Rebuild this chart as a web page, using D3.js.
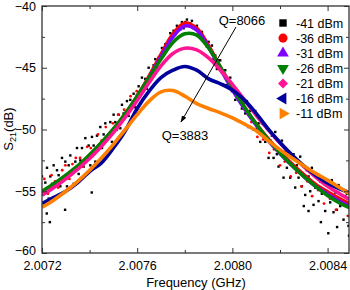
<!DOCTYPE html>
<html><head><meta charset="utf-8">
<script src="https://cdn.jsdelivr.net/npm/d3@7"></script>
<style>
body{margin:0;background:#fff}
svg{display:block}
text{font-family:Arial,"Liberation Sans",sans-serif;fill:#000}
</style>
</head><body>
<svg id="c" width="350" height="290"></svg>
<script>
// ---------- data ----------
const freqGrid = [2.00720,2.00725,2.00730,2.00735,2.00740,2.00745,2.00750,2.00755,2.00760,2.00765,2.00770,2.00775,2.00780,2.00785,2.00790,2.00795,2.00800,2.00805,2.00810,2.00815,2.00820,2.00825,2.00830,2.00835,2.00840,2.00845,2.00850];
const s36 = [-55.1,-54.45,-53.75,-53.0,-52.1,-51.1,-50.0,-48.75,-47.3,-45.67,-43.92,-42.28,-41.38,-41.79,-43.22,-44.98,-46.67,-48.2,-49.55,-50.75,-51.82,-52.78,-53.65,-54.45,-55.05,-55.6,-56.1];
const s31 = [-55.3,-54.65,-53.95,-53.15,-52.25,-51.25,-50.12,-48.85,-47.4,-45.8,-44.1,-42.5,-41.62,-41.95,-43.35,-45.1,-46.78,-48.3,-49.65,-50.88,-51.95,-52.92,-53.8,-54.6,-55.22,-55.8,-56.3];
const s26 = [-55.0,-54.4,-53.7,-52.95,-52.05,-51.05,-49.95,-48.7,-47.3,-45.8,-44.3,-42.95,-42.25,-42.35,-43.4,-44.95,-46.6,-48.15,-49.55,-50.8,-51.9,-52.9,-53.8,-54.6,-55.35,-55.95,-56.4];
const s21 = [-55.3,-54.7,-54.0,-53.2,-52.35,-51.35,-50.25,-49.0,-47.65,-46.2,-44.85,-43.85,-43.42,-43.55,-44.2,-45.2,-46.35,-47.6,-48.85,-50.0,-51.1,-52.1,-53.0,-53.85,-54.6,-55.2,-55.75];
const s16 = [-56.0,-55.5,-55.0,-54.3,-53.4,-52.7,-51.5,-50.1,-48.3,-46.9,-45.8,-45.2,-44.9,-45.2,-45.9,-46.3,-46.8,-47.6,-48.7,-49.95,-51.05,-52.05,-52.95,-53.7,-54.35,-54.8,-55.15];
const s11 = [-56.3,-55.7,-55.0,-54.2,-53.3,-52.3,-51.2,-50.0,-48.8,-47.7,-46.95,-46.85,-47.3,-47.9,-48.3,-48.65,-49.05,-49.55,-50.1,-50.9,-51.65,-52.3,-52.95,-53.55,-54.1,-54.7,-55.3];

// -41 dBm measured points (noisy)
const blackFreq = [
2.007200,2.007207,2.007214,2.007221,2.007228,2.007235,2.007242,2.007249,2.007256,2.007263,
2.007270,2.007277,2.007284,2.007291,2.007298,2.007305,2.007312,2.007319,2.007326,2.007333,
2.007340,2.007347,2.007354,2.007361,2.007368,2.007375,2.007382,2.007389,2.007396,2.007403,
2.007410,2.007417,2.007424,2.007431,2.007438,2.007445,2.007452,2.007459,2.007466,2.007473,
2.007480,2.007487,2.007494,2.007501,2.007508,2.007515,2.007522,2.007529,2.007536,2.007543,
2.007550,2.007557,2.007564,2.007571,2.007578,2.007585,2.007592,2.007599,2.007606,2.007613,
2.007620,2.007627,2.007634,2.007641,2.007648,2.007655,2.007662,2.007669,2.007676,2.007683,
2.007690,2.007697,2.007704,2.007711,2.007718,2.007725,2.007732,2.007739,2.007746,2.007753,
2.007760,2.007767,2.007774,2.007781,2.007788,2.007795,2.007802,2.007809,2.007816,2.007823,
2.007830,2.007837,2.007844,2.007851,2.007858,2.007865,2.007872,2.007879,2.007886,2.007893,
2.007900,2.007907,2.007914,2.007921,2.007928,2.007935,2.007942,2.007949,2.007956,2.007963,
2.007970,2.007977,2.007984,2.007991,2.007998,2.008005,2.008012,2.008019,2.008026,2.008033,
2.008040,2.008047,2.008054,2.008061,2.008068,2.008075,2.008082,2.008089,2.008096,2.008103,
2.008110,2.008117,2.008124,2.008131,2.008138,2.008145,2.008152,2.008159,2.008166,2.008173,
2.008180,2.008187,2.008194,2.008201,2.008208,2.008215,2.008222,2.008229,2.008236,2.008243,
2.008250,2.008257,2.008264,2.008271,2.008278,2.008285,2.008292,2.008299,2.008306,2.008313,
2.008320,2.008327,2.008334,2.008341,2.008348,2.008355,2.008362,2.008369,2.008376,2.008383,
2.008390,2.008397,2.008404,2.008411,2.008418,2.008425,2.008432,2.008439,2.008446,2.008453,
2.008460,2.008467,2.008474,2.008481,2.008488,2.008495,
2.007220,2.007233,2.007297,2.007409,2.008300,2.008320,2.008372,2.008403,2.008440,2.008490];
const blackDb = [
-53.8,-55.1,-54.3,-53.1,-55.6,-53.8,-54.4,-52.9,-55.5,-53.3,
-53.7,-54.6,-52.3,-53.9,-52.6,-54.6,-52.9,-52.1,-53.6,-54.4,
-52.6,-51.5,-53.6,-52.5,-51.5,-53.0,-50.7,-52.4,-51.3,-52.9,
-50.6,-51.3,-52.6,-50.5,-51.3,-49.8,-51.5,-50.4,-49.5,-50.8,
-50.4,-49.4,-51.0,-48.8,-49.4,-50.0,-48.8,-49.9,-48.0,-48.7,
-48.9,-47.7,-48.9,-47.6,-48.0,-47.1,-48.2,-47.2,-46.5,-47.1,
-45.8,-46.8,-45.9,-46.7,-45.0,-45.5,-45.5,-44.8,-44.3,-44.9,
-44.2,-44.2,-43.4,-44.0,-43.1,-43.0,-43.3,-42.2,-42.5,-42.0,
-42.3,-41.6,-41.8,-41.9,-41.3,-41.8,-41.3,-41.1,-41.6,-41.4,
-41.2,-41.8,-41.8,-41.6,-42.3,-42.1,-42.1,-42.7,-42.8,-43.3,
-42.9,-43.6,-43.2,-44.3,-44.0,-45.1,-44.4,-44.4,-45.4,-45.4,
-45.2,-46.4,-46.0,-45.8,-46.9,-46.6,-47.6,-46.9,-47.5,-47.2,
-48.3,-47.9,-48.7,-47.7,-49.8,-48.5,-49.1,-50.0,-48.5,-49.9,
-49.5,-51.0,-49.5,-50.4,-51.0,-49.9,-52.3,-50.9,-50.5,-52.3,
-50.2,-52.0,-53.0,-51.7,-50.9,-53.9,-51.8,-53.1,-51.8,-53.9,
-52.8,-52.0,-54.7,-52.9,-53.9,-52.2,-54.6,-53.8,-55.3,-53.3,
-53.8,-55.0,-53.1,-56.1,-54.7,-53.8,-55.8,-54.2,-55.2,-54.0,
-56.6,-55.0,-54.5,-55.9,-54.1,-56.7,-55.1,-56.5,-54.5,-56.2,
-55.9,-57.3,-55.4,-55.2,-57.8,-55.9,
-56.8,-57.5,-56.5,-55.1,-56.2,-56.6,-57.5,-58.4,-57.9,-58.6];

// -36 dBm scattered points away from its band
const redFreq = [2.007210,2.007225,2.007240,2.007255,2.007268,2.007285,2.007298,2.007315,2.007328,2.007342,2.007360,2.007372,2.007390,2.007405,2.007418,2.007435,2.007450,2.007468,2.007482,2.007498,2.007520,2.007545,2.007572,2.007598,2.008080,2.008105,2.008130,2.008155,2.008175,2.008200,2.008220,2.008245,2.008268,2.008290,2.008315,2.008335,2.008360,2.008385,2.008410,2.008435,2.008460,2.008485];
const redDb = [-54.0,-55.2,-53.7,-54.2,-54.7,-53.3,-52.9,-54.0,-52.8,-52.3,-52.3,-53.0,-51.4,-51.5,-52.0,-50.4,-50.9,-49.8,-50.6,-49.5,-48.8,-48.4,-47.3,-46.9,-49.4,-50.6,-50.8,-51.9,-51.6,-52.9,-52.6,-53.8,-53.5,-54.6,-54.2,-55.4,-54.9,-56.0,-55.6,-56.5,-56.1,-57.0];

const seriesNames = ["-41 dBm","-36 dBm","-31 dBm","-26 dBm","-21 dBm","-16 dBm","-11 dBm"];
const seriesColors = ["#000000","#ff0000","#8000ff","#008000","#ff1493","#00009c","#ff8000"];
const xTickMajor = [2.0072,2.0076,2.0080,2.0084];
const xTickMinor = [2.0074,2.0078,2.0082];
const yTickMajor = [-60,-55,-50,-45,-40];
const yTickMinor = [-57.5,-52.5,-47.5,-42.5];
const qHigh = "Q=8066", qLow = "Q=3883";

// ---------- drawing ----------
const svg = d3.select("#c");
const L=42,R=349,T=6,B=253;
const x = d3.scaleLinear().domain([2.0072,2.00849]).range([L,R]);
const y = d3.scaleLinear().domain([-60,-40]).range([B,T]);

svg.append("defs").append("clipPath").attr("id","clip")
  .append("rect").attr("x",L).attr("y",T).attr("width",R-L).attr("height",B-T);
const plot = svg.append("g").attr("clip-path","url(#clip)");

// black scatter
plot.append("g").selectAll("rect").data(blackFreq.map((f,i)=>[f,blackDb[i]])).join("rect")
  .attr("x",d=>x(d[0])-1.2).attr("y",d=>y(d[1])-1.2).attr("width",2.4).attr("height",2.4)
  .attr("fill","#000");

const line = d3.line().x(d=>x(d[0])).y(d=>y(d[1])).curve(d3.curveCatmullRom.alpha(0.5));
const lineSeries = [s36,s31,s26,s21,s16,s11];
lineSeries.forEach((s,k)=>{
  plot.append("path").datum(freqGrid.map((f,i)=>[f,s[i]]))
    .attr("d",line).attr("fill","none").attr("stroke",seriesColors[k+1])
    .attr("stroke-width",3.6).attr("stroke-linejoin","round");
  if(k===0){
    plot.append("g").selectAll("circle").data(redFreq.map((f,i)=>[f,redDb[i]])).join("circle")
      .attr("cx",d=>x(d[0])).attr("cy",d=>y(d[1])).attr("r",1.4).attr("fill","#ff0000");
  }
});

// axes
const axCol="#333";
function styleAx(g){g.select(".domain").remove();g.selectAll("line").attr("stroke",axCol).attr("stroke-width",1);
  g.selectAll("text").attr("font-size","12.5px").attr("font-family","Arial, 'Liberation Sans', sans-serif");}
svg.append("g").attr("transform",`translate(0,${B})`)
  .call(d3.axisBottom(x).tickValues(xTickMajor).tickSize(-5).tickPadding(8).tickFormat(d3.format(".4f"))).call(styleAx);
svg.append("g").attr("transform",`translate(0,${B})`)
  .call(d3.axisBottom(x).tickValues(xTickMinor).tickSize(-3).tickFormat("")).call(styleAx);
svg.append("g").attr("transform",`translate(0,${T})`)
  .call(d3.axisTop(x).tickValues(xTickMajor).tickSize(-5).tickFormat("")).call(styleAx);
svg.append("g").attr("transform",`translate(0,${T})`)
  .call(d3.axisTop(x).tickValues(xTickMinor).tickSize(-3).tickFormat("")).call(styleAx);
const yAx = svg.append("g").attr("transform",`translate(${L},0)`)
  .call(d3.axisLeft(y).tickValues(yTickMajor).tickSize(-5).tickPadding(6).tickFormat(d3.format("d"))).call(styleAx);
yAx.selectAll(".tick text").filter(d=>d===-60).attr("dy","0.1em");
svg.append("g").attr("transform",`translate(${L},0)`)
  .call(d3.axisLeft(y).tickValues(yTickMinor).tickSize(-3).tickFormat("")).call(styleAx);
svg.append("g").attr("transform",`translate(${R},0)`)
  .call(d3.axisRight(y).tickValues(yTickMajor).tickSize(-5).tickFormat("")).call(styleAx);
svg.append("g").attr("transform",`translate(${R},0)`)
  .call(d3.axisRight(y).tickValues(yTickMinor).tickSize(-3).tickFormat("")).call(styleAx);
svg.append("rect").attr("x",L).attr("y",T).attr("width",R-L).attr("height",B-T)
  .attr("fill","none").attr("stroke",axCol).attr("stroke-width",1.3);

// axis titles
svg.append("text").attr("x",196).attr("y",287).attr("text-anchor","middle")
  .attr("font-size","13px").text("Frequency (GHz)");
const yl = svg.append("text").attr("transform","translate(13,129) rotate(-90)")
  .attr("text-anchor","middle").attr("font-size","13px");
yl.append("tspan").text("S");
yl.append("tspan").attr("font-size","9px").attr("dy",3).text("21");
yl.append("tspan").attr("dy",-3).text("(dB)");

// legend
const symTypes = [
  {t:d3.symbolSquare,r:0,s:55},{t:d3.symbolCircle,r:0,s:65},{t:d3.symbolTriangle,r:0,s:60},
  {t:d3.symbolTriangle,r:180,s:60},{t:d3.symbolSquare,r:45,s:50},{t:d3.symbolTriangle,r:-90,s:60},
  {t:d3.symbolTriangle,r:90,s:60}];
const lg = svg.append("g");
seriesNames.forEach((n,i)=>{
  const yy = 23 + i*15.1;
  lg.append("path").attr("d",d3.symbol().type(symTypes[i].t).size(symTypes[i].s)())
    .attr("transform",`translate(283,${yy}) rotate(${symTypes[i].r})`).attr("fill",seriesColors[i]);
  lg.append("text").attr("x",296).attr("y",yy+4.5).attr("font-size","12.5px").text(n);
});

// annotations
svg.append("defs").append("marker").attr("id","ah").attr("viewBox","0 0 10 10")
  .attr("refX",9).attr("refY",5).attr("markerWidth",7).attr("markerHeight",7).attr("orient","auto")
  .append("path").attr("d","M0,1.5 L10,5 L0,8.5 Z").attr("fill","#000");
svg.append("line").attr("x1",236).attr("y1",27).attr("x2",181).attr("y2",122)
  .attr("stroke","#000").attr("stroke-width",1).attr("marker-end","url(#ah)");
svg.append("text").attr("x",242).attr("y",25).attr("text-anchor","middle").attr("font-size","13px").text(qHigh);
svg.append("text").attr("x",185).attr("y",140).attr("text-anchor","middle").attr("font-size","13px").text(qLow);
</script>
</body></html>
